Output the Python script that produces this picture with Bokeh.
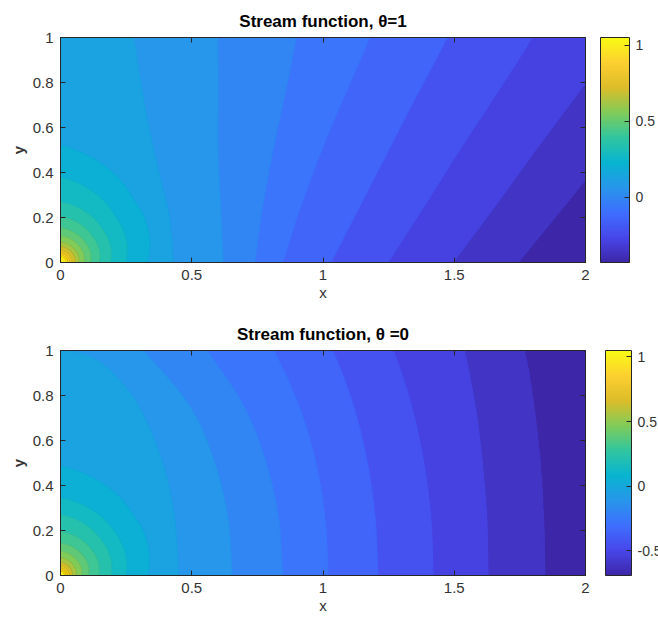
import numpy as np
from bokeh.plotting import figure
from bokeh.layouts import column
from bokeh.models import ColorBar, LinearColorMapper, FixedTicker, LinearAxis, Range1d
from bokeh.embed import file_html
from bokeh.resources import INLINE

# ---------------- data ----------------
X_TICKS = [0, 0.5, 1, 1.5, 2]
X_TICK_LABELS = ["0", "0.5", "1", "1.5", "2"]
Y_TICKS = [0, 0.2, 0.4, 0.6, 0.8, 1.0]
Y_TICK_LABELS = ["0", "0.2", "0.4", "0.6", "0.8", "1"]
N_LEVELS = 20  # number of filled-contour levels between the data minimum and maximum

# upper panel (theta = 1): data range, and the (x, y) points of each contour line,
# from the lowest level (far right) to the highest (around the origin)
TOP_TITLE = "Stream function, θ=1"
TOP_ZMIN, TOP_ZMAX = -0.43, 1.05
TOP_CX = [
    [1.743, 1.87, 2.0],
    [1.495, 1.655, 1.81, 2.0],
    [1.247, 1.385, 1.52, 1.66, 1.80],
    [1.03, 1.14, 1.25, 1.36, 1.476],
    [0.846, 0.915, 0.995, 1.085, 1.18],
    [0.74, 0.77, 0.81, 0.855, 0.90],
    [0.62, 0.61, 0.60, 0.60, 0.60],
    [0.43, 0.415, 0.365, 0.32, 0.28],
    [0.33, 0.2786, 0.0],
    [0.248, 0.2075, 0.0],
    [0.19, 0.1554, 0.0],
    [0.148, 0.120, 0.0],
    [0.115, 0.0924, 0.0],
    [0.090, 0.0716, 0.0],
    [0.070, 0.0555, 0.0],
    [0.055, 0.0435, 0.0],
    [0.043, 0.0339, 0.0],
    [0.034, 0.0267, 0.0],
    [0.027, 0.0211, 0.0],
    [0.021, 0.0166, 0.0],
]
TOP_CY = [
    [0.0, 0.18, 0.364],
    [0.0, 0.25, 0.5, 0.794],
    [0.0, 0.25, 0.5, 0.75, 1.0],
    [0.0, 0.25, 0.5, 0.75, 1.0],
    [0.0, 0.25, 0.5, 0.75, 1.0],
    [0.0, 0.25, 0.5, 0.75, 1.0],
    [0.0, 0.25, 0.5, 0.75, 1.0],
    [0.0, 0.2, 0.45, 0.7, 1.0],
    [0.0, 0.2786, 0.52],
    [0.0, 0.2075, 0.379],
    [0.0, 0.1554, 0.27],
    [0.0, 0.120, 0.205],
    [0.0, 0.0924, 0.155],
    [0.0, 0.0716, 0.118],
    [0.0, 0.0555, 0.091],
    [0.0, 0.0435, 0.071],
    [0.0, 0.0339, 0.055],
    [0.0, 0.0267, 0.043],
    [0.0, 0.0211, 0.034],
    [0.0, 0.0166, 0.027],
]
TOP_CB_TICKS = [0, 0.5, 1]
TOP_CB_LABELS = ["0", "0.5", "1"]

# lower panel (theta = 0)
BOT_TITLE = "Stream function, θ =0"
BOT_ZMIN, BOT_ZMAX = -0.69, 1.05
BOT_CX = [
    [1.845, 1.840, 1.827, 1.803, 1.77],
    [1.629, 1.624, 1.607, 1.580, 1.54],
    [1.42, 1.411, 1.384, 1.338, 1.27],
    [1.209, 1.199, 1.169, 1.117, 1.04],
    [1.02, 1.008, 0.973, 0.910, 0.815],
    [0.846, 0.831, 0.784, 0.700, 0.56],
    [0.654, 0.638, 0.588, 0.494, 0.318],
    [0.45, 0.435, 0.39, 0.30, 0.20, 0.12, 0.04],
    [0.331, 0.2736, 0.0],
    [0.248, 0.2014, 0.0],
    [0.191, 0.1561, 0.0],
    [0.146, 0.1171, 0.0],
    [0.108, 0.0866, 0.0],
    [0.080, 0.0643, 0.0],
    [0.059, 0.0475, 0.0],
    [0.044, 0.0353, 0.0],
    [0.033, 0.0264, 0.0],
    [0.025, 0.0199, 0.0],
    [0.019, 0.0151, 0.0],
    [0.014, 0.0113, 0.0],
]
BOT_CY = [
    [0.0, 0.25, 0.5, 0.75, 1.0],
    [0.0, 0.25, 0.5, 0.75, 1.0],
    [0.0, 0.25, 0.5, 0.75, 1.0],
    [0.0, 0.25, 0.5, 0.75, 1.0],
    [0.0, 0.25, 0.5, 0.75, 1.0],
    [0.0, 0.25, 0.5, 0.75, 1.0],
    [0.0, 0.25, 0.5, 0.75, 1.0],
    [0.0, 0.25, 0.5, 0.75, 0.9, 0.97, 1.0],
    [0.0, 0.2736, 0.486],
    [0.0, 0.2014, 0.345],
    [0.0, 0.1561, 0.271],
    [0.0, 0.1171, 0.196],
    [0.0, 0.0866, 0.145],
    [0.0, 0.0643, 0.108],
    [0.0, 0.0475, 0.080],
    [0.0, 0.0353, 0.059],
    [0.0, 0.0264, 0.044],
    [0.0, 0.0199, 0.033],
    [0.0, 0.0151, 0.025],
    [0.0, 0.0113, 0.019],
]
BOT_CB_TICKS = [-0.5, 0, 0.5, 1]
BOT_CB_LABELS = ["-0.5", "0", "0.5", "1"]

# ---------------- styling ----------------
PARULA_ANCHORS = [
    (0.2422, 0.1504, 0.6603), (0.2803, 0.2782, 0.9221), (0.2440, 0.4358, 0.9988),
    (0.1540, 0.5902, 0.9218), (0.0297, 0.7082, 0.8163), (0.1938, 0.7758, 0.6251),
    (0.5044, 0.7993, 0.3480), (0.8634, 0.7406, 0.1596), (0.9892, 0.8136, 0.1885),
    (0.9769, 0.9839, 0.0805),
]


def to_hex(c):
    return "#%02x%02x%02x" % tuple(int(round(255 * v)) for v in c)


_pa = np.array(PARULA_ANCHORS)
_ta = np.linspace(0, 1, len(PARULA_ANCHORS))
PARULA256 = [to_hex([np.interp(t, _ta, _pa[:, k]) for k in range(3)]) for t in np.linspace(0, 1, 256)]

FONT = "Liberation Sans"
DARK = "#262626"


def _smooth(xs, ys, n=24):
    """Catmull-Rom curve through the read points (for lines that leave through the top/right edges)."""
    P = np.column_stack([xs, ys])
    P = np.vstack([2 * P[0] - P[1], P, 2 * P[-1] - P[-2]])
    out = [P[1]]
    u = np.linspace(0, 1, n + 1)[1:][:, None]
    for i in range(1, len(P) - 2):
        p0, p1, p2, p3 = P[i - 1], P[i], P[i + 1], P[i + 2]
        c = 0.5 * (2 * p1 + (-p0 + p2) * u + (2 * p0 - 5 * p1 + 4 * p2 - p3) * u ** 2
                   + (-p0 + 3 * p1 - 3 * p2 + p3) * u ** 3)
        out.extend(c)
    out = np.array(out)
    return out[:, 0], out[:, 1]


def field_from_contours(levels_desc, cx, cy, zmin, zmax, n_ang=541, n_rad=460):
    phic = np.arctan2(1.0, 2.0)
    ang = np.unique(np.concatenate([np.linspace(0, np.pi / 2, n_ang), [phic]]))
    with np.errstate(divide="ignore"):
        rmax = np.minimum(2.0 / np.cos(ang), 1.0 / np.sin(ang))
    s = np.linspace(0, 1, n_rad) ** 2
    R = s[:, None] * rmax[None, :]
    X = R * np.cos(ang)[None, :]
    Y = R * np.sin(ang)[None, :]
    X[:, -1] = 0.0
    big = 1e3
    lv = np.asarray(levels_desc, float)
    rl = np.full((len(lv), len(ang)), big)
    for k, (xs, ys) in enumerate(zip(cx, cy)):
        xs = np.asarray(xs, float)
        ys = np.asarray(ys, float)
        if xs[-1] > 1e-9:
            xs, ys = _smooth(xs, ys)
        ph = np.arctan2(ys, xs)
        rr = np.hypot(xs, ys)
        order = np.argsort(ph, kind="stable")
        ph, rr = ph[order], rr[order]
        inside = ang <= ph[-1] + 1e-9
        rl[k, inside] = np.interp(ang[inside], ph, rr)
    rl = np.maximum.accumulate(rl, axis=0)
    step = lv[0] - lv[1]
    Z = np.empty_like(R)
    for j in range(len(ang)):
        r_end = rmax[j]
        crossed = rl[:, j] < r_end
        last = lv[crossed][-1] if crossed.any() else lv[0]
        rr = [0.0] + list(rl[crossed, j]) + [r_end + 1e-9]
        zz = [zmax] + list(lv[crossed]) + [max(zmin + 0.002, last - step / 2)]
        Z[:, j] = np.interp(R[:, j], rr, zz)
    return X, Y, Z


def band_color(v, cmin, cmax):
    t = (v - cmin) / (cmax - cmin)
    return PARULA256[int(round(np.clip(t, 0, 1) * 255))]


def make_panel(title, cx, cy, zmin, zmax, cb_ticks, cb_labels,
               border_top, border_bottom, cb_gap, cb_width):
    p = figure(frame_width=525, frame_height=225,
               x_range=Range1d(0, 2), y_range=Range1d(0, 1),
               output_backend="svg", toolbar_location=None,
               min_border_left=60, min_border_right=73,
               min_border_top=border_top, min_border_bottom=border_bottom,
               background_fill_color="#3b75fc", border_fill_color="white",
               outline_line_color=DARK, outline_line_width=1)

    levels_asc = list(np.linspace(zmin, zmax, N_LEVELS + 2)[1:-1])
    X, Y, Z = field_from_contours(levels_asc[::-1], cx[::-1], cy[::-1], zmin, zmax)
    bounds = [zmin - 0.01] + levels_asc + [zmax + 0.01]
    fills = [band_color(zmin, zmin, zmax)] + [band_color(v, zmin, zmax) for v in levels_asc]
    line_cols = [fills[0]] + fills[1:] + [fills[-1]]
    p.contour(X, Y, Z, levels=bounds, fill_color=fills, line_color=line_cols, line_width=1)

    p.grid.visible = False
    p.xaxis.ticker = FixedTicker(ticks=X_TICKS)
    p.xaxis.major_label_overrides = dict(zip(X_TICKS, X_TICK_LABELS))
    p.yaxis.ticker = FixedTicker(ticks=Y_TICKS)
    p.yaxis.major_label_overrides = dict(zip(Y_TICKS, Y_TICK_LABELS))
    p.xaxis.axis_label = "x"
    p.yaxis.axis_label = "y"
    for ax in (p.xaxis[0], p.yaxis[0]):
        ax.major_tick_in = 5
        ax.major_tick_out = 0
        ax.minor_tick_line_color = None
        ax.axis_line_color = DARK
        ax.major_tick_line_color = DARK
        ax.major_label_text_font = FONT
        ax.major_label_text_font_size = "15px"
        ax.major_label_text_color = "#333333"
        ax.axis_label_text_font = FONT
        ax.axis_label_text_font_size = "15px"
        ax.axis_label_text_color = "#333333"
        ax.axis_label_standoff = 1
    p.xaxis.major_label_standoff = 7
    p.yaxis.major_label_standoff = 7
    p.yaxis.axis_label_standoff = 3
    p.yaxis.axis_label_text_font_style = "bold"
    p.xaxis.axis_label_text_font_style = "normal"

    for side, tk in (("above", X_TICKS), ("right", Y_TICKS)):
        ax = LinearAxis(ticker=FixedTicker(ticks=tk), major_label_text_font_size="0px",
                        major_label_text_color=None,
                        major_tick_in=5, major_tick_out=0, minor_tick_line_color=None,
                        axis_line_color=DARK, major_tick_line_color=DARK,
                        major_label_standoff=0)
        p.add_layout(ax, side)

    p.title.text = title
    p.title.align = "center"
    p.title.text_font = FONT
    p.title.text_font_size = "17px"
    p.title.text_font_style = "bold"
    p.title.text_color = "black"
    p.title.standoff = 14

    mapper = LinearColorMapper(palette=PARULA256, low=zmin, high=zmax)
    cb = ColorBar(color_mapper=mapper, ticker=FixedTicker(ticks=cb_ticks),
                  major_label_overrides=dict(zip(cb_ticks, cb_labels)),
                  location=(525 + cb_gap, 0), width=cb_width, height=225,
                  padding=0, margin=0, bar_line_color=DARK, bar_line_width=1,
                  major_tick_line_color=DARK, major_tick_in=5, major_tick_out=0,
                  minor_tick_line_color=None, label_standoff=6,
                  major_label_text_font=FONT, major_label_text_font_size="14px",
                  major_label_text_color="#333333",
                  background_fill_color=None, border_line_color=None)
    p.add_layout(cb, "center")
    return p


p1 = make_panel(TOP_TITLE, TOP_CX, TOP_CY, TOP_ZMIN, TOP_ZMAX,
                TOP_CB_TICKS, TOP_CB_LABELS, 37, 48, 15, 29)
p2 = make_panel(BOT_TITLE, BOT_CX, BOT_CY, BOT_ZMIN, BOT_ZMAX,
                BOT_CB_TICKS, BOT_CB_LABELS, 40, 46, 20, 26)

layout = column(p1, p2, spacing=0)
open("out.html", "w").write(file_html(layout, INLINE))
